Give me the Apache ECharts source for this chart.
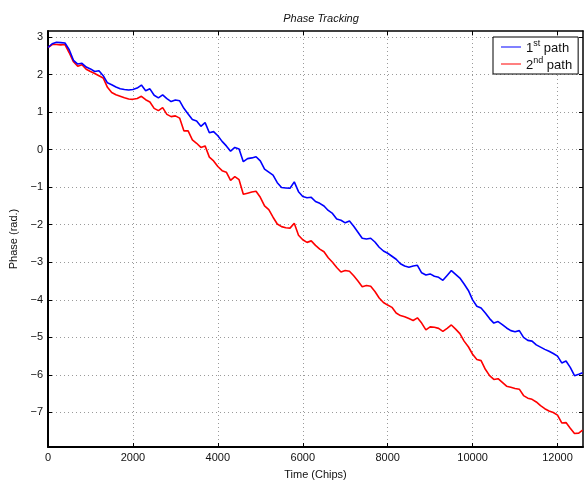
<!DOCTYPE html>
<html>
<head>
<meta charset="utf-8">
<script src="https://cdn.jsdelivr.net/npm/echarts@6/dist/echarts.min.js"></script>
<style>
html,body{margin:0;padding:0;background:#fff;}
#main{width:585px;height:485px;}
</style>
</head>
<body>
<div id="main"></div>
<script>
const titleText = 'Phase Tracking';
const xName = 'Time (Chips)';
const yName = 'Phase (rad.)';
const seriesNames = ['1st path', '2nd path'];
const xTicks = [0, 2000, 4000, 6000, 8000, 10000, 12000];
const yTicks = [-7, -6, -5, -4, -3, -2, -1, 0, 1, 2, 3];

const chips = [0,100,200,300,400,500,600,700,800,900,
1000,1100,1200,1300,1400,1500,1600,1700,1800,1900,
2000,2100,2200,2300,2400,2500,2600,2700,2800,2900,
3000,3100,3200,3300,3400,3500,3600,3700,3800,3900,
4000,4100,4200,4300,4400,4500,4600,4700,4800,4900,
5000,5100,5200,5300,5400,5500,5600,5700,5800,5900,
6000,6100,6200,6300,6400,6500,6600,6700,6800,6900,
7000,7100,7200,7300,7400,7500,7600,7700,7800,7900,
8000,8100,8200,8300,8400,8500,8600,8700,8800,8900,
9000,9100,9200,9300,9400,9500,9600,9700,9800,9900,
10000,10100,10200,10300,10400,10500,10600,10700,10800,10900,
11000,11100,11200,11300,11400,11500,11600,11700,11800,11900,
12000,12100,12200,12300,12400,12500,12590];

const path1 = [2.72,2.82,2.86,2.85,2.84,2.66,2.38,2.28,2.30,2.20,
2.15,2.08,2.10,1.97,1.78,1.73,1.67,1.62,1.60,1.59,
1.60,1.64,1.72,1.57,1.62,1.45,1.38,1.46,1.36,1.28,
1.32,1.30,1.10,0.95,0.80,0.76,0.62,0.72,0.45,0.48,
0.37,0.22,0.10,-0.04,0.06,0.02,-0.32,-0.24,-0.22,-0.19,
-0.30,-0.52,-0.60,-0.68,-0.88,-1.01,-1.02,-1.03,-0.86,-1.12,
-1.25,-1.28,-1.27,-1.38,-1.43,-1.50,-1.62,-1.70,-1.85,-1.88,
-1.95,-1.90,-2.04,-2.20,-2.36,-2.38,-2.36,-2.46,-2.60,-2.70,
-2.76,-2.84,-2.92,-3.04,-3.10,-3.13,-3.10,-3.08,-3.28,-3.34,
-3.31,-3.37,-3.40,-3.48,-3.35,-3.22,-3.32,-3.42,-3.58,-3.75,
-4.00,-4.17,-4.22,-4.35,-4.50,-4.62,-4.58,-4.66,-4.75,-4.82,
-4.85,-4.82,-5.00,-5.08,-5.10,-5.20,-5.26,-5.32,-5.37,-5.43,
-5.50,-5.68,-5.63,-5.80,-6.02,-5.98,-5.94];

const path2 = [2.72,2.80,2.80,2.79,2.80,2.58,2.34,2.22,2.26,2.14,
2.08,2.03,1.97,1.91,1.66,1.52,1.46,1.42,1.38,1.35,
1.34,1.36,1.42,1.33,1.27,1.10,1.04,1.12,0.94,0.88,
0.90,0.84,0.50,0.50,0.26,0.17,0.06,0.10,-0.20,-0.30,
-0.45,-0.56,-0.60,-0.82,-0.72,-0.80,-1.19,-1.16,-1.13,-1.11,
-1.27,-1.50,-1.60,-1.80,-1.98,-2.05,-2.08,-2.09,-1.96,-2.28,
-2.40,-2.47,-2.43,-2.55,-2.65,-2.72,-2.88,-3.00,-3.14,-3.26,
-3.22,-3.24,-3.36,-3.50,-3.65,-3.62,-3.64,-3.78,-3.95,-4.07,
-4.14,-4.20,-4.35,-4.42,-4.45,-4.50,-4.55,-4.48,-4.62,-4.80,
-4.72,-4.73,-4.76,-4.84,-4.76,-4.67,-4.78,-4.90,-5.10,-5.25,
-5.45,-5.59,-5.62,-5.85,-6.02,-6.12,-6.10,-6.20,-6.30,-6.33,
-6.36,-6.38,-6.55,-6.62,-6.65,-6.72,-6.82,-6.90,-6.96,-7.00,
-7.07,-7.28,-7.27,-7.42,-7.56,-7.55,-7.47];

const FONT = 'Liberation Sans, Arial, sans-serif';
const fmtNum = v => String(v).replace('-', '\u2212');

const chart = echarts.init(document.getElementById('main'), null, {renderer: 'canvas'});

const xMin = 0, xMax = 12600, yMin = -7.92, yMax = 3.16;

function xAxisCfg(pos, main) {
  return {
    type: 'value', position: pos, min: xMin, max: xMax,
    name: main ? xName : '', nameLocation: 'middle', nameGap: 22,
    nameTextStyle: {fontFamily: FONT, fontSize: 11, color: '#111'},
    axisLine: {show: true, onZero: false, lineStyle: {color: '#000', width: main ? 2 : 1.5}},
    axisTick: {show: true, inside: true, length: 4, customValues: xTicks, lineStyle: {color: '#000', width: 1}},
    axisLabel: {show: main, customValues: xTicks, margin: 5, fontFamily: FONT, fontSize: 11, color: '#111', formatter: fmtNum},
    splitLine: {show: main, lineStyle: {color: '#9a9a9a', width: 1, type: [1, 3]}}
  };
}
function yAxisCfg(pos, main) {
  return {
    type: 'value', position: pos, min: yMin, max: yMax,
    name: main ? yName : '', nameLocation: 'middle', nameGap: 24,
    nameTextStyle: {fontFamily: FONT, fontSize: 11, color: '#111'},
    axisLine: {show: true, onZero: false, lineStyle: {color: '#000', width: main ? 2 : 1.5}},
    axisTick: {show: true, inside: true, length: 4, customValues: yTicks, lineStyle: {color: '#000', width: 1}},
    axisLabel: {show: main, customValues: yTicks, margin: 5, fontFamily: FONT, fontSize: 11, color: '#111', formatter: fmtNum},
    splitLine: {show: main, lineStyle: {color: '#9a9a9a', width: 1, type: [1, 3]}}
  };
}

const legendRich = {
  n: {fontFamily: FONT, fontSize: 13, color: '#111', verticalAlign: 'bottom', lineHeight: 16},
  s: {fontFamily: FONT, fontSize: 9, color: '#111', verticalAlign: 'top', lineHeight: 16}
};

chart.setOption({
  animation: false,
  backgroundColor: '#fff',
  title: {
    text: titleText, left: 316, top: 8, textAlign: 'center',
    textStyle: {fontFamily: FONT, fontSize: 11, fontStyle: 'italic', fontWeight: 'normal', color: '#111'}
  },
  legend: {
    left: 493, top: 37, orient: 'vertical',
    padding: [2, 6, 2, 8], itemGap: 1, itemWidth: 20, itemHeight: 1, itemTextGap: 6,
    icon: 'rect',
    borderColor: '#000', borderWidth: 1, backgroundColor: '#fff',
    data: seriesNames,
    formatter: function (name) {
      const m = name.match(/^(\d+)(st|nd|rd|th)(.*)$/);
      return '{n|' + m[1] + '}{s|' + m[2] + '}{n|' + m[3] + '}';
    },
    textStyle: {fontFamily: FONT, fontSize: 13, color: '#111', rich: legendRich}
  },
  grid: {left: 48, right: 2, top: 31, bottom: 32, containLabel: false},
  xAxis: [xAxisCfg('bottom', true), xAxisCfg('top', false)],
  yAxis: [yAxisCfg('left', true), yAxisCfg('right', false)],
  series: [
    {
      name: seriesNames[0], type: 'line', showSymbol: false, symbol: 'none',
      data: chips.map((c, i) => [c, path1[i]]),
      lineStyle: {color: '#0000ff', width: 1.6}, itemStyle: {color: '#0000ff'}, z: 3
    },
    {
      name: seriesNames[1], type: 'line', showSymbol: false, symbol: 'none',
      data: chips.map((c, i) => [c, path2[i]]),
      lineStyle: {color: '#ff0000', width: 1.6}, itemStyle: {color: '#ff0000'}, z: 2
    }
  ]
});
</script>
</body>
</html>
